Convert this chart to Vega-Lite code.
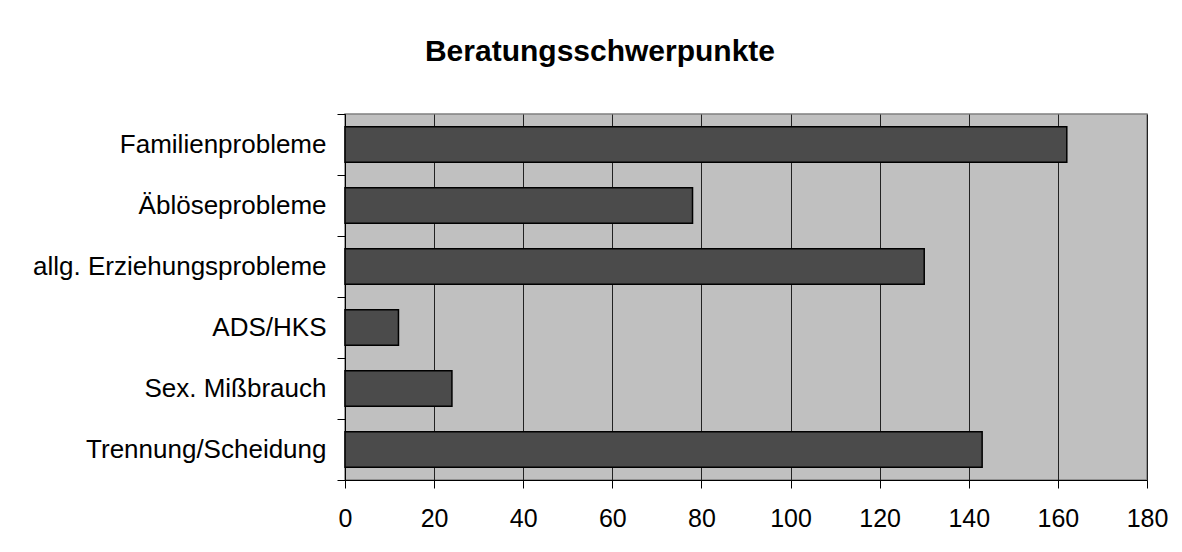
{
  "$schema": "https://vega.github.io/schema/vega-lite/v6.json",
  "autosize": "none",
  "width": 802,
  "height": 366,
  "padding": {"left": 345, "top": 114, "right": 35, "bottom": 72},
  "background": "white",
  "title": {
    "text": "Beratungsschwerpunkte",
    "font": "Liberation Sans",
    "fontSize": 30,
    "fontWeight": "bold",
    "color": "black",
    "anchor": "middle",
    "frame": "group",
    "dx": -146,
    "baseline": "alphabetic",
    "offset": 10
  },
  "data": {
    "values": [
      {"Kategorie": "Familienprobleme", "Anzahl": 162},
      {"Kategorie": "Äblöseprobleme", "Anzahl": 78},
      {"Kategorie": "allg. Erziehungsprobleme", "Anzahl": 130},
      {"Kategorie": "ADS/HKS", "Anzahl": 12},
      {"Kategorie": "Sex. Mißbrauch", "Anzahl": 24},
      {"Kategorie": "Trennung/Scheidung", "Anzahl": 143}
    ]
  },
  "mark": {
    "type": "bar",
    "height": {"band": 0.585},
    "fill": "#4B4B4B",
    "stroke": "black",
    "strokeWidth": 1.5
  },
  "encoding": {
    "y": {
      "field": "Kategorie",
      "type": "nominal",
      "sort": null,
      "scale": {"paddingInner": 0, "paddingOuter": 0},
      "axis": {
        "title": null,
        "bandPosition": 1,
        "tickExtra": true,
        "tickSize": 8,
        "tickColor": "black",
        "domainColor": "black",
        "labelFont": "Liberation Sans",
        "labelFontSize": 26,
        "labelColor": "black",
        "labelPadding": 11,
        "labelLimit": 0,
        "grid": false
      }
    },
    "x": {
      "field": "Anzahl",
      "type": "quantitative",
      "scale": {"domain": [0, 180], "nice": false},
      "axis": {
        "title": null,
        "values": [0, 20, 40, 60, 80, 100, 120, 140, 160, 180],
        "tickSize": 8,
        "tickColor": "black",
        "domainColor": "black",
        "labelFont": "Liberation Sans",
        "labelFontSize": 25,
        "labelColor": "black",
        "labelPadding": 18,
        "labelFlush": false,
        "grid": true,
        "gridColor": "#222222",
        "gridWidth": 1
      }
    }
  },
  "config": {
    "view": {"fill": "#C0C0C0", "stroke": "#808080", "strokeWidth": 1.5}
  }
}
